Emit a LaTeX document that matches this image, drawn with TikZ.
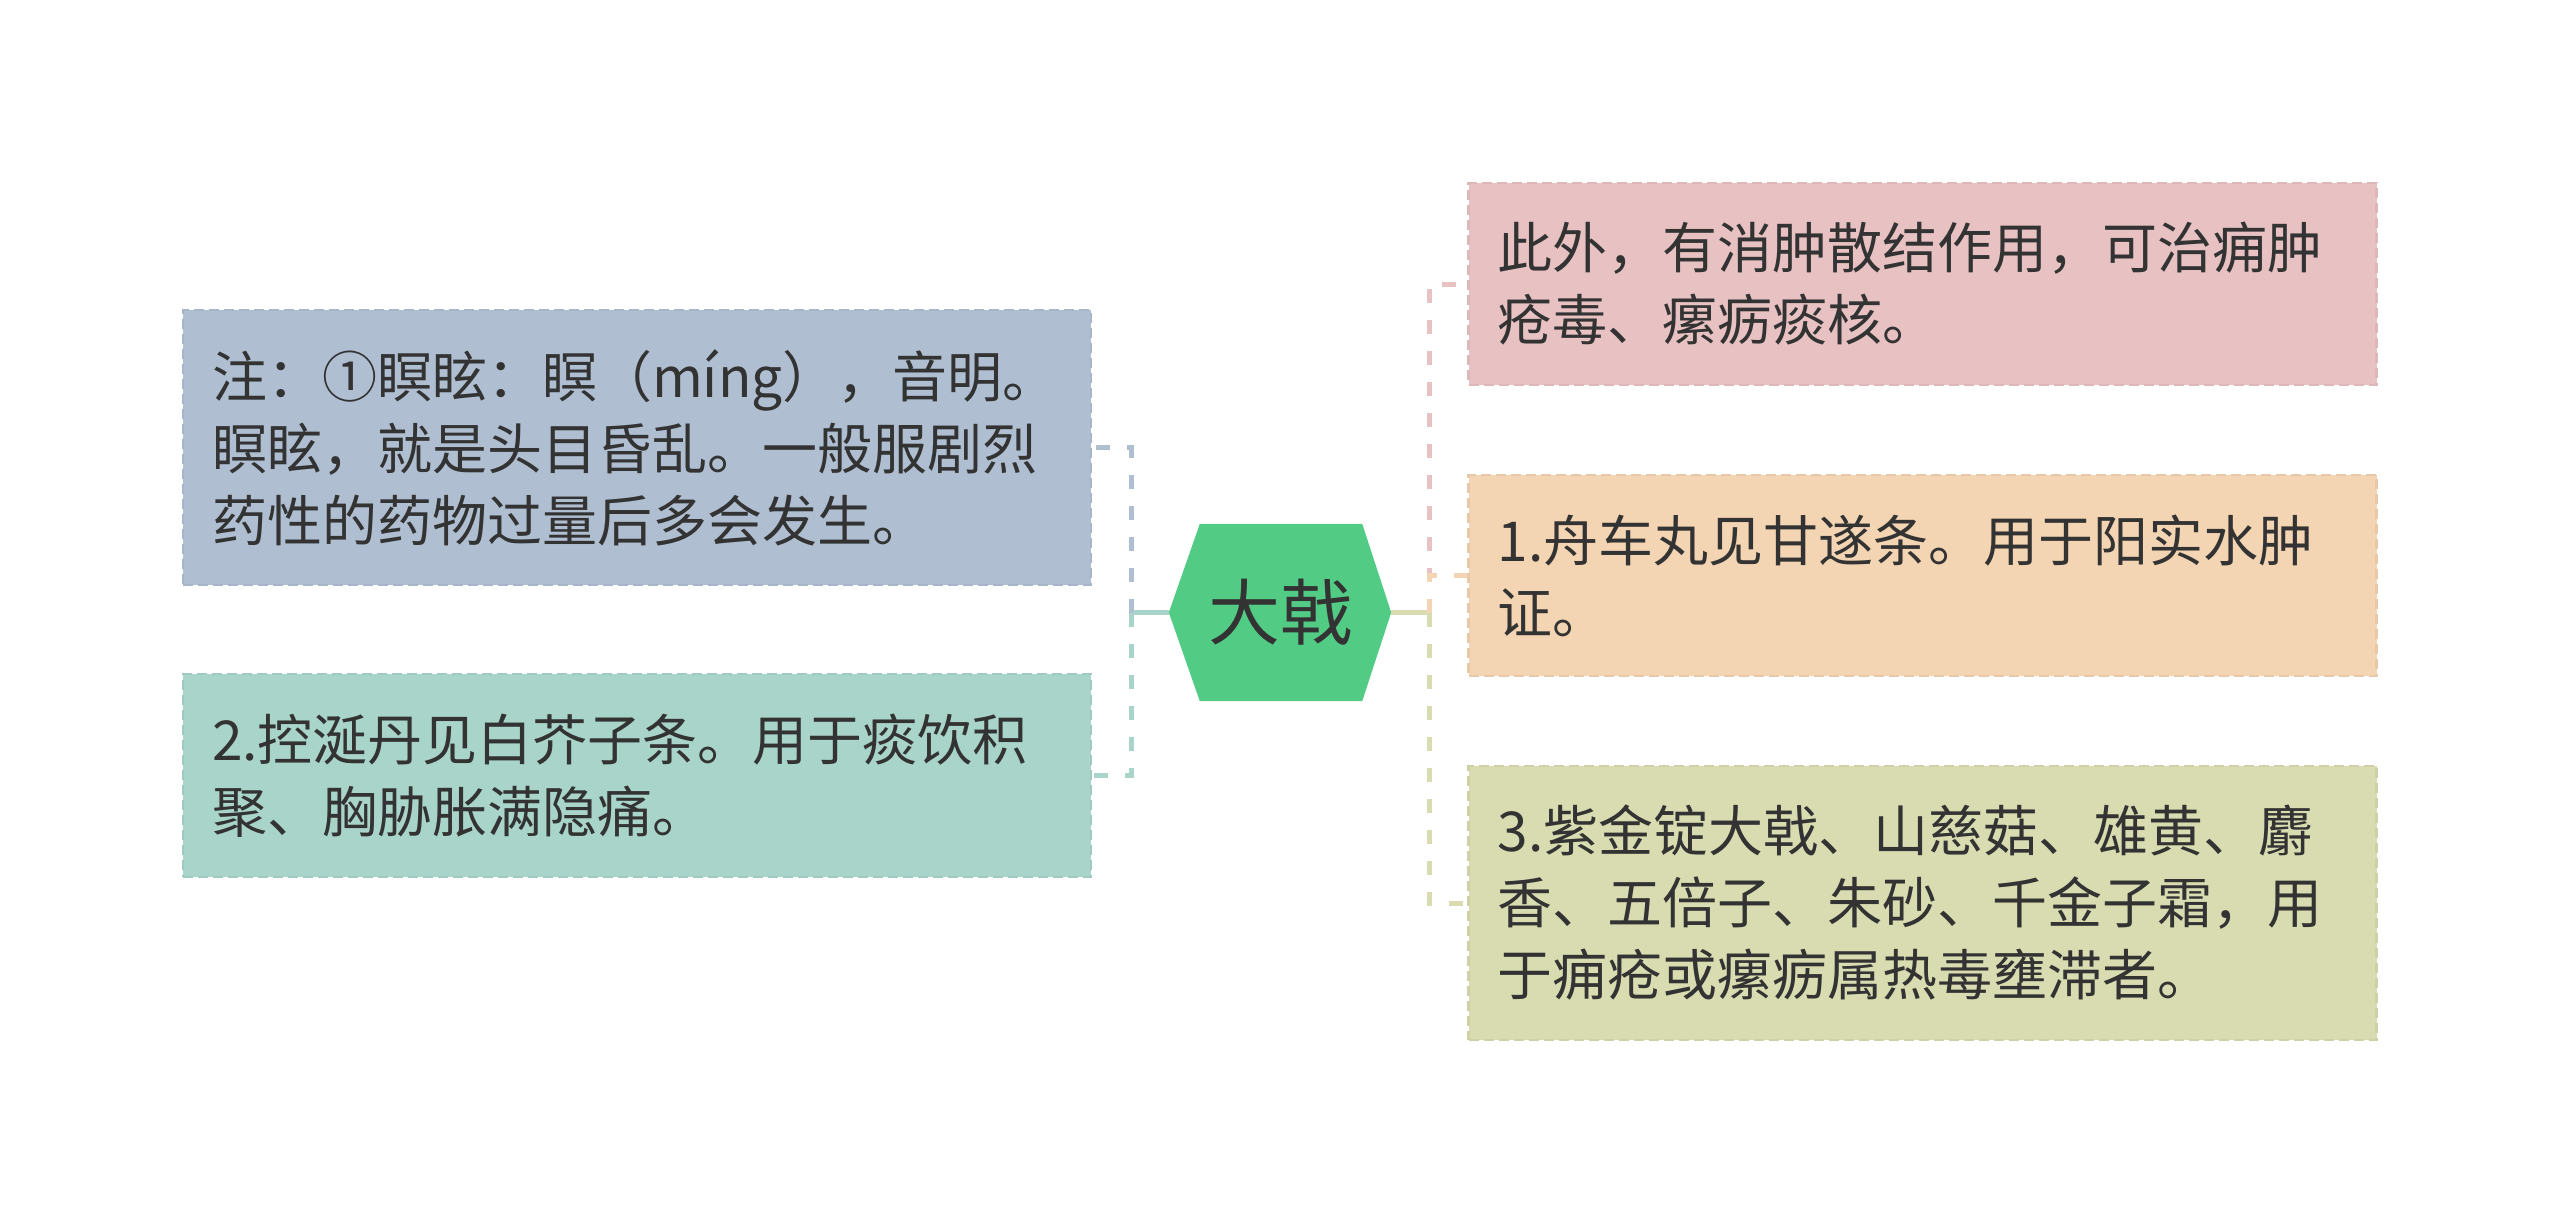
\documentclass[tikz,border=0pt]{standalone}
\usepackage{fontspec}
\newfontfamily\cjk{Noto Sans CJK SC}
\usetikzlibrary{backgrounds}

\definecolor{rootgreen}{HTML}{52CC85}
\definecolor{textgray}{HTML}{333333}
\definecolor{bluegray}{HTML}{AFBFD1}
\definecolor{mint}{HTML}{A8D4CA}
\definecolor{rose}{HTML}{E8C2C2}
\definecolor{peach}{HTML}{F3D4B3}
\definecolor{khaki}{HTML}{D9DCB0}

\tikzset{
  leaf/.style={rectangle, fill=#1, draw=#1!95!black, line width=2.5pt,
    dash pattern=on 10pt off 5pt, text=textgray,
    font=\cjk\fontsize{55}{72}\selectfont, align=left,
    text width=850pt, inner xsep=29pt, inner ysep=0pt},
  link/.style={draw=#1, line width=5pt, dash pattern=on 14pt off 17pt},
}

\begin{document}
\begin{tikzpicture}[x=1pt,y=-1pt]
  \useasboundingbox (0,0) rectangle (2560,1225);

  % centre
  \node[font=\cjk\fontsize{72}{72}\selectfont, text=textgray,
    minimum width=222pt, minimum height=177pt, inner sep=0pt] (root) at (1280,612.5) {大戟};
  \begin{scope}[on background layer]
    \fill[rootgreen] (root.west) -- ([xshift=31pt]root.north west) -- ([xshift=-29pt]root.north east)
      -- (root.east) -- ([xshift=-29pt]root.south east) -- ([xshift=31pt]root.south west) -- cycle;
  \end{scope}

  % left
  \node[leaf=bluegray, minimum height=275pt] (note) at (637,447.5)
    {注：①瞑眩：瞑（míng），音明。\\瞑眩，就是头目昏乱。一般服剧烈\\药性的药物过量后多会发生。};
  \node[leaf=mint, minimum height=203pt] (kongxian) at (637,775.5)
    {2.控涎丹见白芥子条。用于痰饮积\\聚、胸胁胀满隐痛。};

  % right
  \node[leaf=rose, minimum height=202pt] (xiaozhong) at (1922.5,284)
    {此外，有消肿散结作用，可治痈肿\\疮毒、瘰疬痰核。};
  \node[leaf=peach, minimum height=201pt] (zhouche) at (1922.5,575.5)
    {1.舟车丸见甘遂条。用于阳实水肿\\证。};
  \node[leaf=khaki, minimum height=274pt] (zijin) at (1922.5,903)
    {3.紫金锭大戟、山慈菇、雄黄、麝\\香、五倍子、朱砂、千金子霜，用\\于痈疮或瘰疬属热毒壅滞者。};

  \coordinate (lj) at (1131,612.5);
  \coordinate (rj) at (1429,612.5);
  \draw[mint, line width=5pt] (root.west) -- (lj);
  \draw[khaki, line width=5pt] (root.east) -- (rj);
  \foreach \to/\col in {note/bluegray, kongxian/mint}
    \draw[link=\col] (lj) |- (\to.east);
  \foreach \to/\col in {xiaozhong/rose, zhouche/peach, zijin/khaki}
    \draw[link=\col] (rj) |- (\to.west);
\end{tikzpicture}
\end{document}
